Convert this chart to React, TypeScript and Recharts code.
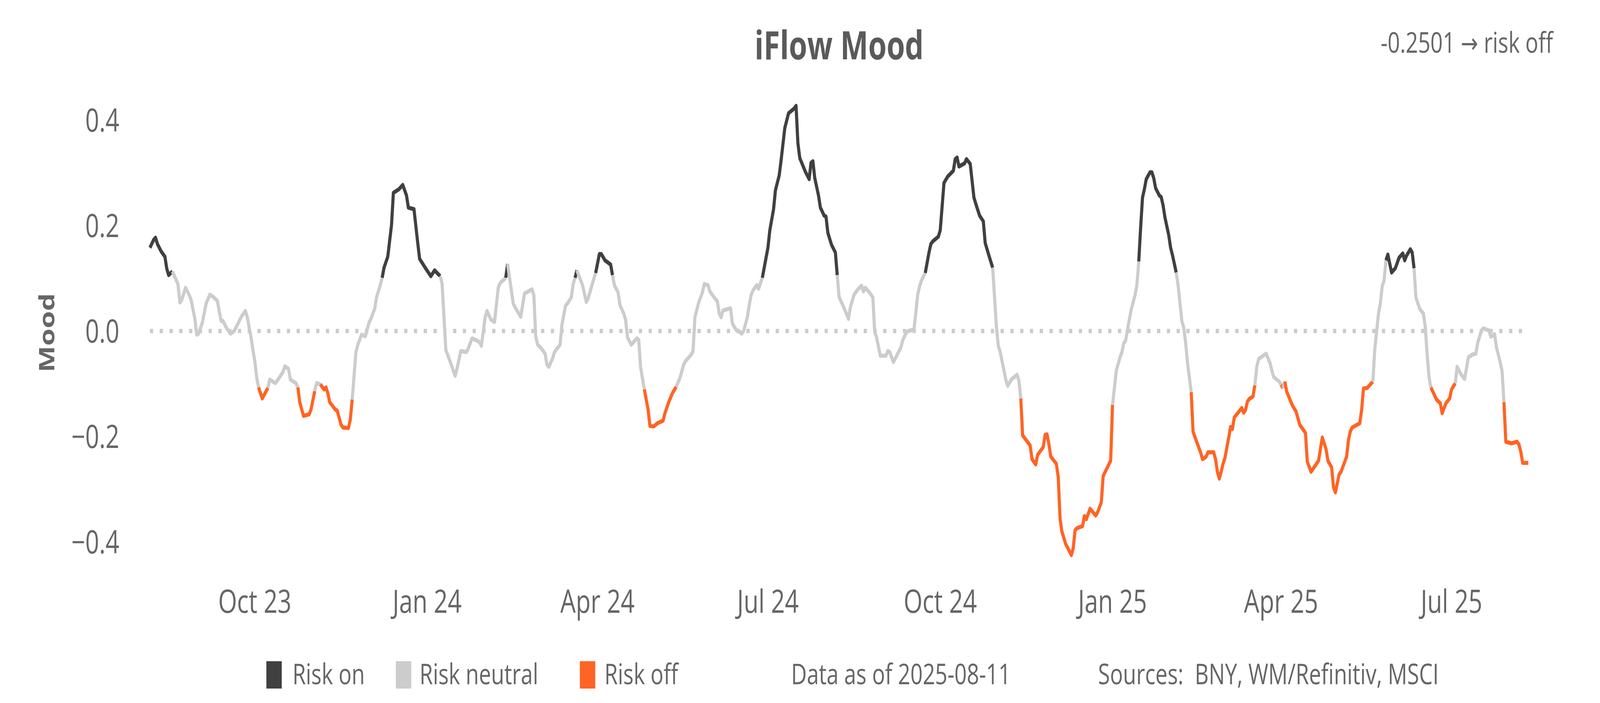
import React from 'react';
import { LineChart, Line, XAxis, YAxis, ReferenceLine } from 'recharts';

// ---------------- data ----------------
// x values: days since 2023-10-01
const EPOCH_ISO = '2023-10-01';
const DAY_MS = 86400000;

const dayOffsets = [
  -56, -54, -53, -52, -50, -48, -47, -46, -44, -42,
  -41, -40, -39, -37, -35, -34, -32, -31, -30, -28,
  -26, -24, -22, -20, -18, -17, -15, -13, -11, -9,
  -7, -5, -4, -2, -1, 0, 1, 2, 4, 5,
  7, 8, 11, 13, 15, 16, 18, 19, 22, 23,
  24, 26, 29, 30, 32, 33, 35, 37, 38, 39,
  40, 43, 44, 46, 47, 50, 51, 52, 54, 55,
  57, 59, 61, 62, 64, 65, 67, 68, 69, 71,
  73, 74, 77, 79, 81, 82, 85, 87, 88, 91,
  94, 96, 99, 100, 102, 104, 107, 108, 110, 113,
  114, 116, 118, 120, 121, 123, 124, 126, 128, 130,
  131, 134, 135, 138, 139, 142, 144, 148, 149, 150,
  151, 153, 155, 156, 157, 159, 160, 163, 164, 166,
  167, 169, 170, 171, 172, 175, 177, 178, 180, 182,
  184, 185, 187, 190, 191, 192, 194, 195, 197, 198,
  199, 201, 204, 205, 206, 208, 210, 211, 213, 215,
  218, 219, 221, 223, 225, 227, 229, 230, 233, 234,
  235, 237, 239, 240, 242, 243, 245, 247, 248, 249,
  250, 254, 255, 257, 259, 260, 261, 263, 264, 265,
  266, 268, 269, 270, 271, 273, 274, 275, 277, 278,
  280, 281, 283, 285, 288, 289, 290, 291, 294, 296,
  297, 298, 299, 301, 302, 304, 305, 306, 308, 310,
  311, 312, 314, 317, 318, 320, 322, 324, 325, 326,
  328, 330, 331, 332, 334, 337, 338, 339, 341, 343,
  345, 346, 348, 349, 352, 354, 355, 356, 358, 360,
  361, 362, 365, 366, 368, 370, 373, 374, 375, 376,
  379, 380, 382, 384, 385, 387, 389, 390, 392, 394,
  395, 396, 397, 398, 399, 401, 402, 404, 407, 408,
  409, 410, 414, 415, 417, 418, 421, 422, 423, 424,
  425, 428, 429, 430, 431, 433, 436, 437, 438, 439,
  442, 443, 444, 446, 449, 450, 452, 453, 457, 458,
  460, 462, 463, 464, 465, 466, 468, 470, 471, 472,
  473, 474, 475, 476, 478, 479, 480, 481, 483, 484,
  485, 486, 488, 489, 490, 492, 493, 495, 496, 497,
  498, 500, 501, 503, 505, 506, 507, 508, 509, 512,
  513, 514, 515, 516, 517, 518, 520, 521, 522, 523,
  525, 527, 528, 529, 530, 531, 533, 534, 535, 536,
  538, 540, 542, 544, 547, 548, 549, 550, 551, 554,
  556, 558, 561, 562, 564, 568, 570, 572, 573, 575,
  576, 577, 579, 580, 582, 583, 584, 585, 586, 590,
  591, 592, 594, 597, 598, 600, 601, 602, 603, 604,
  605, 607, 609, 611, 613, 614, 615, 617, 618, 619,
  620, 622, 624, 625, 626, 627, 628, 631, 633, 634,
  636, 638, 639, 641, 642, 644, 646, 648, 650, 652,
  653, 655, 656, 659, 660, 662, 663, 665, 666, 667,
  668, 671, 674, 675, 676, 677, 680,
];

const mood = [
  0.158, 0.173, 0.177, 0.165, 0.151, 0.141, 0.118, 0.106, 0.113, 0.097,
  0.088, 0.054, 0.059, 0.082, 0.068, 0.059, 0.023, -0.007, -0.005, 0.016,
  0.052, 0.069, 0.064, 0.057, 0.019, 0.019, 0.005, -0.005, 0.0, 0.014,
  0.028, 0.038, 0.026, -0.012, -0.036, -0.057, -0.088, -0.107, -0.128, -0.121,
  -0.108, -0.092, -0.099, -0.089, -0.078, -0.067, -0.072, -0.092, -0.099, -0.107,
  -0.135, -0.161, -0.158, -0.149, -0.114, -0.099, -0.101, -0.111, -0.107, -0.118,
  -0.135, -0.149, -0.151, -0.177, -0.183, -0.184, -0.168, -0.130, -0.040, -0.026,
  -0.007, -0.010, 0.016, 0.023, 0.042, 0.064, 0.087, 0.101, 0.120, 0.141,
  0.201, 0.262, 0.269, 0.277, 0.257, 0.234, 0.231, 0.167, 0.137, 0.120,
  0.104, 0.115, 0.104, 0.090, -0.036, -0.055, -0.085, -0.071, -0.038, -0.040,
  -0.033, -0.014, -0.017, -0.021, -0.028, 0.026, 0.038, 0.022, 0.017, 0.082,
  0.091, 0.101, 0.127, 0.052, 0.045, 0.027, 0.071, 0.079, 0.068, -0.010,
  -0.026, -0.033, -0.043, -0.064, -0.068, -0.052, -0.040, -0.026, 0.012, 0.049,
  0.052, 0.064, 0.089, 0.101, 0.115, 0.087, 0.055, 0.062, 0.087, 0.110,
  0.146, 0.146, 0.134, 0.126, 0.106, 0.087, 0.073, 0.049, 0.033, 0.021,
  -0.012, -0.026, -0.014, -0.017, -0.069, -0.111, -0.149, -0.180, -0.181, -0.175,
  -0.170, -0.156, -0.135, -0.118, -0.106, -0.089, -0.064, -0.057, -0.045, -0.038,
  0.026, 0.054, 0.073, 0.089, 0.087, 0.075, 0.065, 0.056, 0.033, 0.026,
  0.039, 0.043, 0.014, 0.002, -0.002, -0.005, 0.0, 0.026, 0.049, 0.068,
  0.077, 0.087, 0.080, 0.091, 0.101, 0.139, 0.158, 0.191, 0.231, 0.267,
  0.295, 0.323, 0.385, 0.413, 0.422, 0.427, 0.356, 0.328, 0.302, 0.288,
  0.319, 0.322, 0.290, 0.257, 0.234, 0.219, 0.217, 0.186, 0.163, 0.149,
  0.106, 0.064, 0.049, 0.023, 0.045, 0.069, 0.079, 0.086, 0.075, 0.082,
  0.074, 0.064, -0.002, -0.012, -0.047, -0.047, -0.038, -0.040, -0.059, -0.045,
  -0.031, -0.017, -0.002, 0.0, 0.003, 0.070, 0.085, 0.096, 0.110, 0.149,
  0.165, 0.170, 0.179, 0.191, 0.281, 0.293, 0.304, 0.326, 0.329, 0.312,
  0.318, 0.326, 0.317, 0.253, 0.241, 0.219, 0.208, 0.167, 0.143, 0.120,
  0.064, 0.007, -0.028, -0.040, -0.057, -0.092, -0.104, -0.092, -0.083, -0.094,
  -0.128, -0.198, -0.217, -0.243, -0.253, -0.235, -0.220, -0.197, -0.196, -0.214,
  -0.238, -0.252, -0.277, -0.357, -0.381, -0.404, -0.425, -0.412, -0.378, -0.374,
  -0.370, -0.351, -0.357, -0.337, -0.350, -0.344, -0.325, -0.275, -0.246, -0.140,
  -0.075, -0.050, -0.040, -0.023, -0.018, 0.003, 0.041, 0.068, 0.087, 0.132,
  0.196, 0.253, 0.269, 0.288, 0.301, 0.301, 0.290, 0.271, 0.257, 0.254,
  0.238, 0.215, 0.182, 0.158, 0.144, 0.111, 0.087, 0.019, 0.007, -0.021,
  -0.059, -0.116, -0.191, -0.211, -0.230, -0.243, -0.241, -0.238, -0.230, -0.230,
  -0.243, -0.267, -0.280, -0.267, -0.252, -0.241, -0.203, -0.182, -0.186, -0.164,
  -0.155, -0.146, -0.155, -0.150, -0.134, -0.129, -0.124, -0.103, -0.068, -0.053,
  -0.048, -0.043, -0.060, -0.087, -0.096, -0.102, -0.108, -0.096, -0.115, -0.141,
  -0.153, -0.178, -0.193, -0.248, -0.267, -0.246, -0.202, -0.224, -0.246, -0.259,
  -0.297, -0.306, -0.272, -0.267, -0.248, -0.238, -0.206, -0.190, -0.183, -0.175,
  -0.150, -0.109, -0.108, -0.096, -0.036, 0.033, 0.052, 0.085, 0.096, 0.134,
  0.145, 0.111, 0.119, 0.139, 0.147, 0.134, 0.143, 0.155, 0.149, 0.119,
  0.064, 0.042, 0.033, 0.007, -0.045, -0.088, -0.107, -0.130, -0.137, -0.156,
  -0.137, -0.128, -0.111, -0.099, -0.068, -0.082, -0.091, -0.050, -0.045, -0.043,
  -0.022, 0.001, 0.005, 0.001, -0.011, -0.006, -0.031, -0.059, -0.076, -0.135,
  -0.210, -0.213, -0.210, -0.215, -0.229, -0.250, -0.2501,
];

// regime of the line from the given day onward
const regimeChanges: [number, 'on' | 'neutral' | 'off'][] = [
  [-56, 'on'], [-44, 'neutral'], [2, 'off'], [7, 'neutral'], [23, 'off'], [32, 'neutral'],
  [35, 'off'], [52, 'neutral'], [68, 'on'], [99, 'neutral'], [134, 'on'], [135, 'neutral'],
  [171, 'on'], [172, 'neutral'], [182, 'on'], [191, 'neutral'], [208, 'off'], [225, 'neutral'],
  [271, 'on'], [311, 'neutral'], [358, 'on'], [394, 'neutral'], [409, 'off'], [458, 'neutral'],
  [472, 'on'], [492, 'neutral'], [500, 'off'], [534, 'neutral'], [548, 'off'], [549, 'neutral'],
  [550, 'off'], [597, 'neutral'], [604, 'on'], [619, 'neutral'], [628, 'off'], [641, 'neutral'],
  [667, 'off'],
];

const tickDates = ['2023-10-01', '2024-01-01', '2024-04-01', '2024-07-01', '2024-10-01', '2025-01-01', '2025-04-01', '2025-07-01'];
const tickLabels = ['Oct 23', 'Jan 24', 'Apr 24', 'Jul 24', 'Oct 24', 'Jan 25', 'Apr 25', 'Jul 25'];
const yTicks = [-0.4, -0.2, 0, 0.2, 0.4];

const legendLabels = ['Risk on', 'Risk neutral', 'Risk off'];
const legendKeys: ('on' | 'neutral' | 'off')[] = ['on', 'neutral', 'off'];
const latestValueText = '-0.2501';
const latestRegimeText = 'risk off';
const dataAsOf = '2025-08-11';
const sourcesText = 'BNY, WM/Refinitiv, MSCI';

// ---------------- styling ----------------
const COLORS: Record<string, string> = { on: '#404040', neutral: '#cccccc', off: '#ff6424' };
const FONT = '"Open Sans", "Noto Sans", sans-serif';
const TEXT = '#666666';
const DESIGN_W = 5400;
const DESIGN_H = 1800;

// ---------------- build rows / runs ----------------
const epoch = Date.parse(EPOCH_ISO + 'T00:00:00Z');
const n = Math.min(dayOffsets.length, mood.length);

function regimeAt(day: number) {
  let r: string = regimeChanges[0][1];
  for (const [d, g] of regimeChanges) if (d <= day) r = g;
  return r;
}

type Run = { key: string; regime: string; start: number; end: number };
const runs: Run[] = [];
for (let j = 0; j < n - 1; j++) {
  const g = regimeAt(dayOffsets[j]);
  const last = runs[runs.length - 1];
  if (last && last.regime === g && last.end === j) last.end = j + 1;
  else runs.push({ key: 's' + runs.length, regime: g, start: j, end: j + 1 });
}

const rows: Record<string, number>[] = [];
for (let i = 0; i < n; i++) rows.push({ t: epoch + dayOffsets[i] * DAY_MS });
for (const r of runs) for (let i = r.start; i <= r.end; i++) rows[i][r.key] = mood[i];

const tickTimes = tickDates.map((d) => Date.parse(d + 'T00:00:00Z'));
const fmtX = (v: number) => {
  const k = tickTimes.indexOf(v);
  return k >= 0 ? tickLabels[k] : '';
};
const fmtY = (v: number) => (v < 0 ? '\u2212' : '') + Math.abs(v).toFixed(1);

// legend layout (pixels)
const legendSwatchX = [899, 1336, 1957];
const legendTextX = [987, 1416, 2040];

export default function App() {
  const vw = typeof window !== 'undefined' && window.innerWidth ? window.innerWidth : DESIGN_W;
  const vh = typeof window !== 'undefined' && window.innerHeight ? window.innerHeight : DESIGN_H;
  const sx = Math.min(1, vw / DESIGN_W);
  const sy = Math.min(1, vh / DESIGN_H);
  return (
    <div style={{ position: 'fixed', left: 0, top: 0, width: '100vw', height: '100vh', overflow: 'hidden', background: '#ffffff' }}>
      <div
        style={{
          position: 'absolute',
          left: 0,
          top: 0,
          width: DESIGN_W,
          height: DESIGN_H,
          background: '#ffffff',
          fontFamily: FONT,
          transform: `scale(${sx}, ${sy})`,
          transformOrigin: '0 0',
        }}
      >
        <LineChart width={DESIGN_W} height={DESIGN_H} data={rows} margin={{ top: 240, right: 242, bottom: 245, left: 0 }}>
          <XAxis
            dataKey="t"
            type="number"
            domain={['dataMin', 'dataMax']}
            ticks={tickTimes}
            interval={0}
            tickFormatter={fmtX}
            axisLine={false}
            tickLine={false}
            tickSize={0}
            tickMargin={56}
            height={100}
            tick={{ fill: TEXT, fontSize: 82, fontFamily: FONT }}
          />
          <YAxis
            type="number"
            domain={[-0.45, 0.45]}
            ticks={yTicks}
            interval={0}
            tickFormatter={fmtY}
            axisLine={false}
            tickLine={false}
            tickSize={0}
            tickMargin={103}
            width={506}
            tick={{ fill: TEXT, fontSize: 82, fontFamily: FONT }}
          />
          <ReferenceLine y={0} stroke="#cccccc" strokeWidth={11} strokeDasharray="11 22" />
          {runs.map((r) => (
            <Line
              key={r.key}
              dataKey={r.key}
              type="linear"
              stroke={COLORS[r.regime]}
              strokeWidth={10.5}
              strokeLinejoin="round"
              dot={false}
              activeDot={false}
              connectNulls={false}
              isAnimationActive={false}
              legendType="none"
            />
          ))}
        </LineChart>
        <svg width={DESIGN_W} height={DESIGN_H} style={{ position: 'absolute', left: 0, top: 0, pointerEvents: 'none' }}>
          <text x={2832} y={152} textAnchor="middle" fontFamily={FONT} fontWeight={700} fontSize={100} fill="#5a5a5a">
            iFlow Mood
          </text>
          <text x={5241} y={135} textAnchor="end" fontFamily={FONT} fontSize={73} fill={TEXT} style={{ whiteSpace: 'pre' }}>
            {`${latestValueText} `}
            <tspan fontFamily='"DejaVu Sans", sans-serif' fontSize={70}>{'\u2192'}</tspan>
            {` ${latestRegimeText}`}
          </text>
          <text transform="translate(183,852) rotate(-90)" textAnchor="middle" fontFamily={FONT} fontWeight={700} fontSize={72} fill={TEXT}>
            Mood
          </text>
          {legendKeys.map((k, i) => (
            <g key={k}>
              <rect x={legendSwatchX[i]} y={1693} width={52} height={70} fill={COLORS[k]} />
              <text x={legendTextX[i]} y={1752} fontFamily={FONT} fontSize={73} fill={TEXT}>
                {legendLabels[i]}
              </text>
            </g>
          ))}
          <text x={2670} y={1752} fontFamily={FONT} fontSize={73} fill={TEXT}>
            {`Data as of ${dataAsOf}`}
          </text>
          <text x={3706} y={1752} fontFamily={FONT} fontSize={73} fill={TEXT} style={{ whiteSpace: 'pre' }}>
            {`Sources:  ${sourcesText}`}
          </text>
        </svg>
      </div>
    </div>
  );
}
